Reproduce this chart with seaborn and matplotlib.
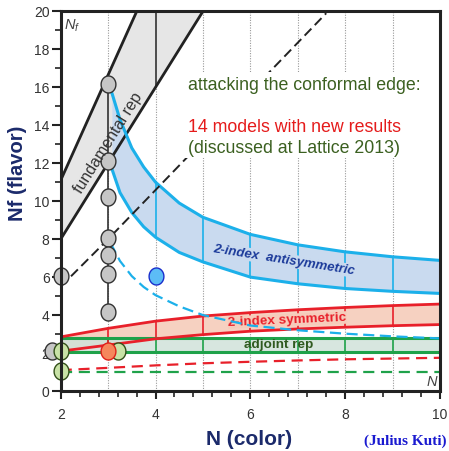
import numpy as np
import pandas as pd
import matplotlib
matplotlib.use("Agg")
import matplotlib.pyplot as plt
import seaborn as sns
from matplotlib.path import Path
from matplotlib.patches import Rectangle

# ---------------- data ----------------
fund_N = [2, 3, 4, 5]
fund_upper = [11.1, 16.65, 22.2, 27.75]
fund_lower = [8.0, 12.0, 16.0, 20.0]

gap_N = [2.0, 3.0, 7.6]
gap_Nf = [5.5, 8.0, 19.9]

anti_N = [3.08, 3.25, 3.5, 3.75, 4, 4.5, 5, 6, 7, 8, 9, 10]
anti_upper = [15.7, 14.3, 12.8, 11.8, 11.0, 9.9, 9.15, 8.25, 7.7, 7.33, 7.07, 6.88]
anti_lower = [11.7, 10.45, 9.4, 8.65, 8.1, 7.3, 6.8, 6.0, 5.65, 5.4, 5.25, 5.14]
anti_dash_N = [3.05, 3.25, 3.5, 3.75, 4, 4.5, 5, 6, 7, 8, 9, 10]
anti_dashed = [7.8, 6.85, 6.05, 5.48, 5.05, 4.46, 4.0, 3.45, 3.2, 3.02, 2.88, 2.77]

sym_N = [2, 3, 4, 5, 6, 7, 8, 9, 10]
sym_upper = [2.85, 3.3, 3.68, 3.95, 4.13, 4.28, 4.4, 4.5, 4.58]
sym_lower = [2.1, 2.42, 2.75, 2.97, 3.15, 3.27, 3.36, 3.44, 3.5]
sym_dashed = [1.1, 1.22, 1.35, 1.46, 1.54, 1.61, 1.67, 1.71, 1.75]

adj_N = [2, 10]
adj_upper = [2.77, 2.77]
adj_lower = [2.07, 2.07]
adj_dashed = [1.02, 1.02]

grid_N = [3, 4, 5, 6, 7, 8, 9]

grey_N = [1.82, 3, 3, 3, 3, 3, 3, 3, 2]
grey_Nf = [2.1, 16.15, 12.12, 10.2, 8.05, 7.15, 6.15, 4.15, 6.05]
green_N = [2, 2, 3.2]
green_Nf = [2.1, 1.03, 2.1]
red_N = [3]
red_Nf = [2.1]
blue_N = [4]
blue_Nf = [6.07]

x_major = [2, 4, 6, 8, 10]
y_major = [0, 2, 4, 6, 8, 10, 12, 14, 16, 18, 20]

# ---------------- style ----------------
sns.set_theme(style="white")
plt.rcParams['font.family'] = ['Liberation Sans', 'DejaVu Sans']
plt.rcParams['mathtext.fontset'] = 'custom'
plt.rcParams['mathtext.it'] = 'Liberation Sans:italic'
plt.rcParams['mathtext.rm'] = 'Liberation Sans'

fig = plt.figure(figsize=(4.49, 4.51), dpi=100)
ax = fig.add_axes([0.1352, 0.1330, 0.8448, 0.8419])
ax.set_xlim(2, 10)
ax.set_ylim(0, 20)

BLUE_E, BLUE_F = '#1cb0ea', '#c9daef'
RED_E, RED_F = '#e8202a', '#f6ccbb'
GRN_E, GRN_F = '#1fa24a', '#d0e2da'
FUND_E, FUND_F = '#222222', '#e6e6e6'

# dotted grid at integer N
for n in grid_N:
    ax.axvline(n, color='#999999', lw=0.8, ls=(0, (1, 1.3)), zorder=1)

# bands
ax.fill_between(fund_N, fund_lower, fund_upper, color=FUND_F, lw=0, zorder=2)
ax.fill_between(anti_N, anti_lower, anti_upper, color=BLUE_F, lw=0, zorder=2)
ax.fill_between(sym_N, sym_lower, sym_upper, color=RED_F, lw=0, zorder=2, alpha=0.9)
ax.fill_between(adj_N, adj_lower, adj_upper, color=GRN_F, lw=0, zorder=2.1, alpha=0.85)

# vertical lines inside bands
for n in grid_N:
    if n >= 4:
        ax.plot([n, n], [np.interp(n, anti_N, anti_lower), np.interp(n, anti_N, anti_upper)],
                color=BLUE_E, lw=1.2, zorder=3)
    ax.plot([n, n], [adj_lower[0], adj_upper[0]], color=GRN_E, lw=1.2, zorder=3)
    ax.plot([n, n], [np.interp(n, sym_N, sym_lower), np.interp(n, sym_N, sym_upper)],
            color=RED_E, lw=1.2, zorder=3.1)
ax.plot([4, 4], [np.interp(4, fund_N, fund_lower), np.interp(4, fund_N, fund_upper)],
        color='#333333', lw=1.2, zorder=3)
ax.plot([3, 3], [grey_Nf[7], np.interp(3, fund_N, fund_upper)], color='#333333', lw=1.2, zorder=3)

# band edges
for yv in (fund_upper, fund_lower):
    sns.lineplot(x=fund_N, y=yv, color=FUND_E, lw=2.0, ax=ax, zorder=4)
for yv in (anti_upper, anti_lower):
    sns.lineplot(x=anti_N, y=yv, color=BLUE_E, lw=2.2, ax=ax, zorder=4)
for yv in (adj_upper, adj_lower):
    sns.lineplot(x=adj_N, y=yv, color=GRN_E, lw=2.2, ax=ax, zorder=4)
for yv in (sym_upper, sym_lower):
    sns.lineplot(x=sym_N, y=yv, color=RED_E, lw=2.0, ax=ax, zorder=4.1)

# dashed lines
sns.lineplot(x=gap_N, y=gap_Nf, color='#222222', lw=1.4, ax=ax, zorder=4.2,
             linestyle=(0, (5, 2.5)))
sns.lineplot(x=anti_dash_N, y=anti_dashed, color=BLUE_E, lw=1.6, ax=ax, zorder=4.5,
             linestyle=(0, (5, 2.5)))
sns.lineplot(x=sym_N, y=sym_dashed, color=RED_E, lw=1.6, ax=ax, zorder=4.2,
             linestyle=(0, (5, 3)))
sns.lineplot(x=adj_N, y=adj_dashed, color=GRN_E, lw=1.6, ax=ax, zorder=4.2,
             linestyle=(0, (5, 3)))

# white box behind the headline text
ax.add_patch(Rectangle((4.55, 12.25), 5.4, 4.55, facecolor='white', edgecolor='none', zorder=5))

# markers (ellipses)
t = np.linspace(0, 2 * np.pi, 60)
ell = Path(np.column_stack([0.87 * np.cos(t), np.sin(t)]), closed=True)
mk = dict(marker=ell, s=150, linewidth=1.0, ax=ax, clip_on=False, legend=False)
sns.scatterplot(x=grey_N, y=grey_Nf, color='#c6c6c6', edgecolor='#333333', zorder=6, **mk)
sns.scatterplot(x=green_N, y=green_Nf, color='#c8e2a6', edgecolor='#33501a', zorder=6.1, **mk)
sns.scatterplot(x=red_N, y=red_Nf, color='#f5875c', edgecolor='#e0201a', zorder=6.2, **mk)
sns.scatterplot(x=blue_N, y=blue_Nf, color='#5cbcf6', edgecolor='#1a2fcc', zorder=6.2, **mk)

# labels inside
ax.text(3.0, 13.05, 'fundamental rep', rotation=58, ha='center', va='center',
        fontsize=11.5, color='#333333', zorder=7, rotation_mode='anchor')
ax.text(6.71, 6.9, '2-index  antisymmetric', rotation=-9, ha='center', va='center',
        fontsize=9.5, color='#1b3a9a', fontstyle='italic', fontweight='bold', zorder=4.3,
        rotation_mode='anchor', bbox=dict(facecolor=BLUE_F, edgecolor='none', pad=0.5))
ax.text(6.78, 3.74, '2-index symmetric', rotation=2.5, ha='center', va='center',
        fontsize=9.7, color=RED_E, fontweight='bold', zorder=4.3,
        rotation_mode='anchor', bbox=dict(facecolor=RED_F, edgecolor='none', pad=0.2))
ax.text(6.6, 2.43, 'adjoint rep', ha='center', va='center',
        fontsize=9.7, color='#2f5a1f', fontweight='bold', zorder=4.3)

ax.text(4.68, 16.1, 'attacking the conformal edge:', ha='left', va='center',
        fontsize=12.8, color='#3b6020', zorder=7)
ax.text(4.68, 13.9, '14 models with new results', ha='left', va='center',
        fontsize=12.8, color='#e51b1b', zorder=7)
ax.text(4.68, 12.77, '(discussed at Lattice 2013)', ha='left', va='center',
        fontsize=12.8, color='#3b6020', zorder=7)

ax.text(2.24, 19.25, r'$N_f$', ha='center', va='center', fontsize=10.5, color='#444444', zorder=7)
ax.text(9.83, 0.5, r'$N$', ha='center', va='center', fontsize=10.5, color='#444444', zorder=7)

# axes styling
ax.set_xticks(x_major)
ax.set_yticks(y_major)
ax.set_xticks(np.arange(2, 10.01, 0.4), minor=True)
ax.set_yticks(np.arange(0, 20.01, 1), minor=True)
ax.tick_params(which='major', direction='out', width=1.5, color='#222222',
               labelsize=10, labelcolor='#333333', bottom=True, left=True)
ax.tick_params(axis='y', which='major', length=6.5, pad=1.5)
ax.tick_params(axis='x', which='major', length=5.5, pad=6.5)
ax.tick_params(which='minor', direction='out', length=4.5, width=1.2, color='#222222',
               bottom=True, left=True)
for s in ax.spines.values():
    s.set_linewidth(2.2)
    s.set_color('#222222')
    s.set_zorder(8)

ax.set_xlabel('')
ax.set_ylabel('')
fig.text(0.039, 0.616, 'Nf (flavor)', rotation=90, ha='center', va='center',
         fontsize=14.5, fontweight='bold', color='#1b2a6b')
fig.text(0.555, 0.025, 'N (color)', ha='center', va='center',
         fontsize=15, fontweight='bold', color='#1b2a6b')
fig.text(0.995, 0.022, '(Julius Kuti)', ha='right', va='center',
         fontsize=11, fontweight='bold', color='#1a1ad0', family=['Liberation Serif', 'DejaVu Serif'])

fig.savefig('out.png', dpi=100, facecolor='white')
